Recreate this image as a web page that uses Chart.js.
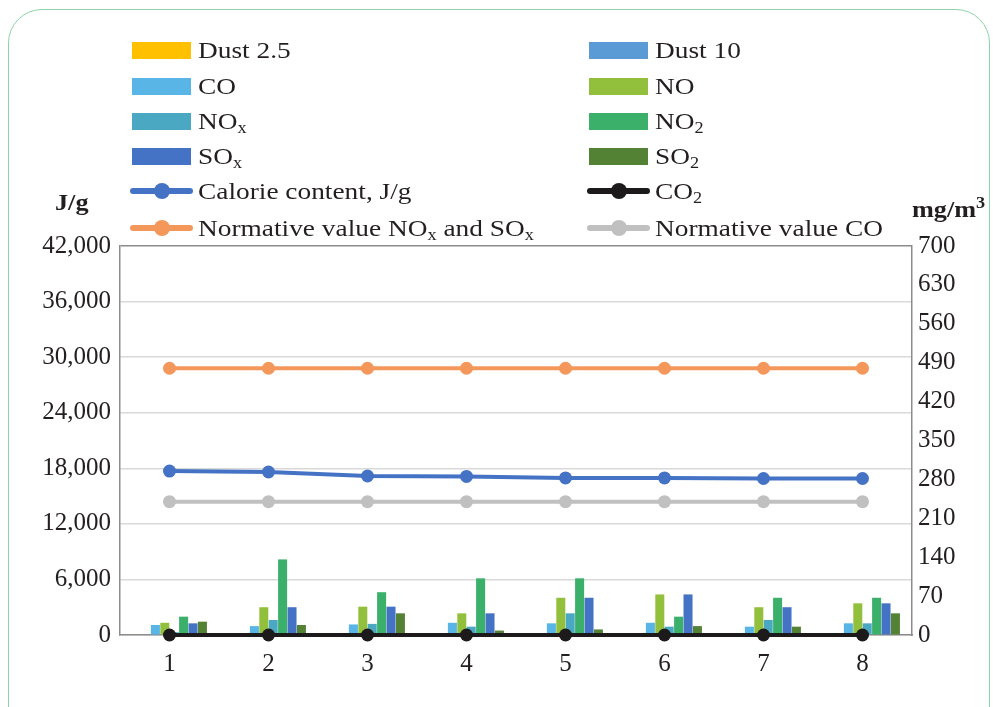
<!DOCTYPE html>
<html>
<head>
<meta charset="utf-8">
<script src="https://cdn.jsdelivr.net/npm/chart.js@4"></script>
<style>
  html, body { margin: 0; padding: 0; background: #fff; }
  body { width: 993px; height: 707px; position: relative; overflow: hidden; font-family: "Liberation Serif", "DejaVu Serif", serif; color: #231f20; }
  #frame { position: absolute; left: 8px; top: 9px; width: 982px; height: 740px; border: 1.5px solid #8fd3a9; border-radius: 34px; box-sizing: border-box; }
  #wrap { position: absolute; left: 0; top: 0; width: 993px; height: 707px; }
  .lg { position: absolute; height: 30px; font-size: 24px; line-height: 30px; white-space: nowrap; }
  .lg .sw { position: absolute; left: 0; top: 7px; width: 59px; height: 17px; }
  .lg .ln { position: absolute; left: -2px; top: 12px; width: 63px; height: 6px; border-radius: 3px; }
  .lg .dot { position: absolute; left: 22px; top: 7px; width: 16px; height: 16px; border-radius: 50%; }
  .lg .tx { position: absolute; left: 66px; top: 0; transform: scaleX(1.14); transform-origin: 0 50%; }
  .lg sub { font-size: 16px; vertical-align: -4px; line-height: 0; }
  .axt { position: absolute; font-weight: bold; font-size: 23px; transform: scaleX(1.14); transform-origin: 0 50%; }
  .axt sup { font-size: 16px; vertical-align: 9px; line-height: 0; }
</style>
</head>
<body>
<div id="frame"></div>
<div id="wrap"><canvas id="chart" width="993" height="707"></canvas></div>
<div class="axt" style="left:55px; top:190px;">J/g</div>
<div class="axt" style="left:912px; top:197px;">mg/m<sup>3</sup></div>
<div id="legend"></div>
<script>
// ---- data ----
const categories = ['1', '2', '3', '4', '5', '6', '7', '8'];
const leftTicks  = [0, 6000, 12000, 18000, 24000, 30000, 36000, 42000];
const rightTicks = [0, 70, 140, 210, 280, 350, 420, 490, 560, 630, 700];

// bars, mg/m3 (right axis)
const dust25 = [1, 1, 1, 1, 1, 1, 1, 1];
const dust10 = [1, 1, 1, 1, 1, 1, 1, 1];
const co     = [18, 16, 19, 22, 21, 22, 15, 21];
const no     = [22, 50, 51, 39, 67, 73, 50, 57];
const nox    = [5, 27, 20, 15, 39, 15, 27, 21];
const no2    = [33, 136, 77, 102, 102, 33, 67, 67];
const sox    = [21, 50, 51, 39, 67, 73, 50, 57];
const so2    = [24, 18, 39, 8, 10, 16, 15, 39];

// lines
const calorie     = [17700, 17600, 17170, 17120, 16960, 16960, 16900, 16900]; // J/g, left axis
const co2         = [0, 0, 0, 0, 0, 0, 0, 0];                                 // mg/m3
const normNoxSox  = [480, 480, 480, 480, 480, 480, 480, 480];                 // mg/m3
const normCo      = [240, 240, 240, 240, 240, 240, 240, 240];                 // mg/m3

// =============================================
// DATASETS
// =============================================
const barDefs = [
    { label: 'Dust 2.5', html: 'Dust 2.5',       data: dust25, color: '#ffc000' },
    { label: 'Dust 10',  html: 'Dust 10',        data: dust10, color: '#5b9bd5' },
    { label: 'CO',       html: 'CO',             data: co,     color: '#58b5e5' },
    { label: 'NO',       html: 'NO',             data: no,     color: '#93c03c' },
    { label: 'NOx',      html: 'NO<sub>x</sub>', data: nox,    color: '#4ba8c3' },
    { label: 'NO2',      html: 'NO<sub>2</sub>', data: no2,    color: '#3bb06a' },
    { label: 'SOx',      html: 'SO<sub>x</sub>', data: sox,    color: '#4472c4' },
    { label: 'SO2',      html: 'SO<sub>2</sub>', data: so2,    color: '#548235' },
];
const lineDefs = [
    { label: 'Calorie content, J/g', html: 'Calorie content, J/g', data: calorie, color: '#4472c4', axis: 'yL' },
    { label: 'CO2', html: 'CO<sub>2</sub>', data: co2, color: '#1c1a1b', axis: 'yR' },
    { label: 'Normative value NOx and SOx', html: 'Normative value NO<sub>x</sub> and SO<sub>x</sub>', data: normNoxSox, color: '#f4975b', axis: 'yR' },
    { label: 'Normative value CO', html: 'Normative value CO', data: normCo, color: '#c0c0c0', axis: 'yR' },
];

const datasets = [];
lineDefs.forEach(d => datasets.push({
    type: 'line', label: d.label, data: d.data, yAxisID: d.axis, order: 0,
    borderColor: d.color, backgroundColor: d.color, borderWidth: 4,
    pointRadius: 6.5, pointHoverRadius: 6.5, pointBorderWidth: 0, tension: 0,
    clip: false,
}));
barDefs.forEach(d => datasets.push({
    type: 'bar', label: d.label, data: d.data, yAxisID: 'yR', order: 1,
    backgroundColor: d.color, borderWidth: 0,
    categoryPercentage: 0.76, barPercentage: 0.96,
}));

// =============================================
// HTML LEGEND (two columns)
// =============================================
const legendEl = document.getElementById('legend');
const legendItems = [
    [barDefs[0], 'bar'], [barDefs[1], 'bar'],
    [barDefs[2], 'bar'], [barDefs[3], 'bar'],
    [barDefs[4], 'bar'], [barDefs[5], 'bar'],
    [barDefs[6], 'bar'], [barDefs[7], 'bar'],
    [lineDefs[0], 'line'], [lineDefs[1], 'line'],
    [lineDefs[2], 'line'], [lineDefs[3], 'line'],
];
const rowTops = [35, 71, 106, 141, 176, 213];
legendItems.forEach(([d, kind], i) => {
    const el = document.createElement('div');
    el.className = 'lg';
    el.style.left = (i % 2 === 0 ? 132 : 589) + 'px';
    el.style.top = rowTops[Math.floor(i / 2)] + 'px';
    const mark = kind === 'bar'
        ? `<span class="sw" style="background:${d.color}"></span>`
        : `<span class="ln" style="background:${d.color}"></span><span class="dot" style="background:${d.color}"></span>`;
    el.innerHTML = mark + `<span class="tx">${d.html}</span>`;
    legendEl.appendChild(el);
});

// =============================================
// CHART
// =============================================
const tickFont = { family: '"Liberation Serif", "DejaVu Serif", serif', size: 25 };
const frameColor = '#8c8c8c';

new Chart(document.getElementById('chart'), {
    data: { labels: categories, datasets },
    options: {
        responsive: false,
        animation: false,
        layout: { padding: { top: 246, left: 0, right: 0, bottom: 0 } },
        plugins: { legend: { display: false }, tooltip: { enabled: false } },
        scales: {
            x: {
                grid: { display: false, drawTicks: false },
                border: { color: frameColor, width: 1.5 },
                ticks: { color: '#231f20', font: tickFont, padding: 14 },
                afterFit: s => { s.height = 72; },
            },
            yL: {
                position: 'left',
                min: 0, max: 42000,
                afterBuildTicks: s => { s.ticks = leftTicks.map(v => ({ value: v })); },
                grid: {
                    drawTicks: false, lineWidth: 1.5,
                    color: c => c.tick && c.tick.value === 42000 ? frameColor : '#d9d9d9',
                },
                border: { color: frameColor, width: 1.5 },
                ticks: { color: '#231f20', font: tickFont, padding: 9, callback: v => v.toLocaleString('en-US') },
                afterFit: s => { s.width = 120; },
            },
            yR: {
                position: 'right',
                min: 0, max: 700,
                afterBuildTicks: s => { s.ticks = rightTicks.map(v => ({ value: v })); },
                grid: { drawOnChartArea: false, drawTicks: false },
                border: { color: frameColor, width: 1.5 },
                ticks: { color: '#231f20', font: tickFont, padding: 6 },
                afterFit: s => { s.width = 81; },
            },
        },
    },
});
</script>
</body>
</html>
